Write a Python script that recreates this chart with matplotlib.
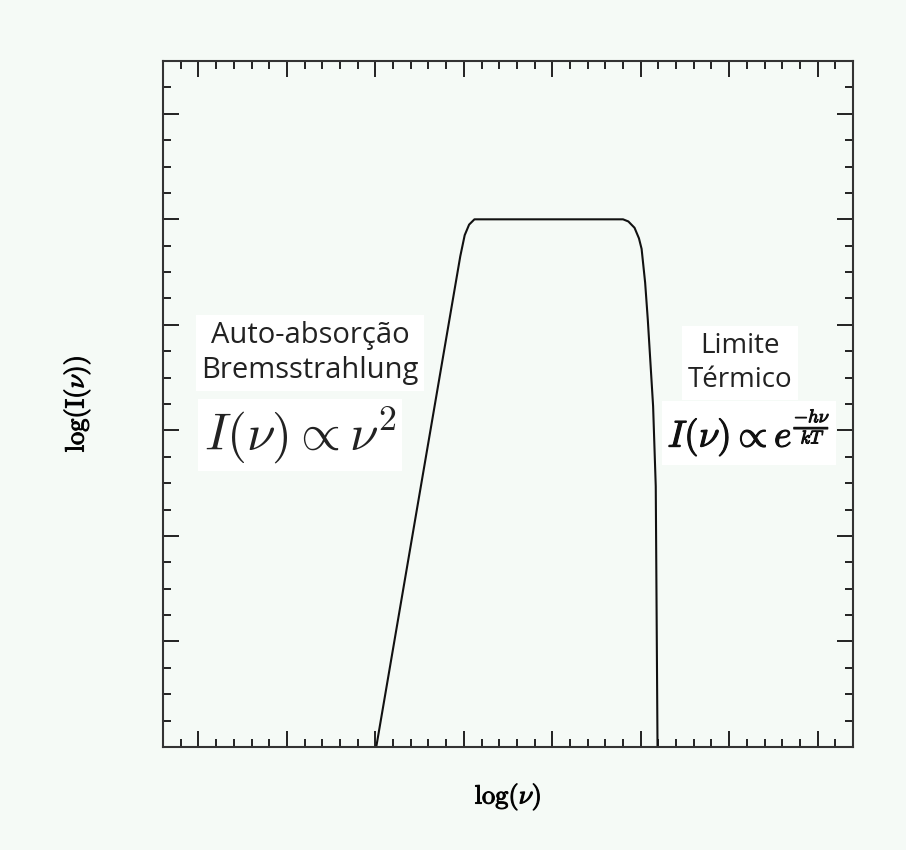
import matplotlib
matplotlib.use("Agg")
import matplotlib.pyplot as plt
import matplotlib.patheffects as pe
from matplotlib.ticker import MultipleLocator

# Curva (em unidades dos eixos)
rise_x = [3.01, 3.50, 3.96, 4.01, 4.06, 4.12]
rise_y = [0.00, 2.40, 4.65, 4.85, 4.95, 5.00]
plateau_x = [4.12, 5.80]
plateau_y = [5.00, 5.00]
drop_x = [5.80, 5.86, 5.93, 5.98, 6.01, 6.05, 6.08, 6.14, 6.17, 6.19]
drop_y = [5.00, 4.98, 4.92, 4.82, 4.72, 4.40, 4.05, 3.23, 2.47, 0.00]

curve_x = rise_x + plateau_x[1:] + drop_x[1:]
curve_y = rise_y + plateau_y[1:] + drop_y[1:]

bg = "#f5faf6"
plt.rcParams["mathtext.fontset"] = "cm"

fig = plt.figure(figsize=(9.06, 8.5), dpi=100, facecolor=bg)
ax = fig.add_axes([0.18, 0.1212, 0.7615, 0.807])
ax.set_facecolor(bg)

ax.plot(curve_x, curve_y, color="#111111", lw=1.5)

ax.set_xlim(0.6, 8.4)
ax.set_ylim(0, 6.5)
ax.xaxis.set_major_locator(MultipleLocator(1))
ax.xaxis.set_minor_locator(MultipleLocator(0.2))
ax.yaxis.set_major_locator(MultipleLocator(1))
ax.yaxis.set_minor_locator(MultipleLocator(0.25))
ax.tick_params(which="both", direction="in", top=True, right=True,
               labelbottom=False, labelleft=False, color="#222222", width=1.4)
ax.tick_params(which="major", length=11.5)
ax.tick_params(which="minor", length=6)
for s in ax.spines.values():
    s.set_linewidth(1.5)
    s.set_color("#333333")

bold = [pe.withStroke(linewidth=0.8, foreground="#111111")]
fig.text(508 / 906, 1 - 797 / 850, r"$\log(\nu)$", fontsize=19,
         ha="center", va="center", path_effects=bold)
fig.text(77 / 906, 1 - 404 / 850, r"$\log(\mathrm{I}(\nu))$", fontsize=19,
         ha="center", va="center", rotation=90, path_effects=bold)

box = dict(facecolor="white", edgecolor="none", pad=4)
fig.text(310 / 906, 1 - 353 / 850, "Auto-absorção\nBremsstrahlung",
         family="Open Sans", fontsize=21, color="#222222",
         ha="center", va="center", linespacing=1.3, bbox=box)
fig.text(300 / 906, 1 - 435 / 850, r"$I(\nu)\propto\nu^2$",
         fontsize=37, color="#222222", ha="center", va="center", bbox=box)
fig.text(740 / 906, 1 - 363 / 850, "Limite\nTérmico",
         family="Open Sans", fontsize=20, color="#222222",
         ha="center", va="center", linespacing=1.3, bbox=box)
fig.text(749 / 906, 1 - 433 / 850, r"$I(\nu)\propto e^{\frac{-h\nu}{kT}}$",
         fontsize=27, color="#111111", ha="center", va="center", bbox=box,
         path_effects=bold)

fig.savefig("out.png", dpi=100, facecolor=bg)
